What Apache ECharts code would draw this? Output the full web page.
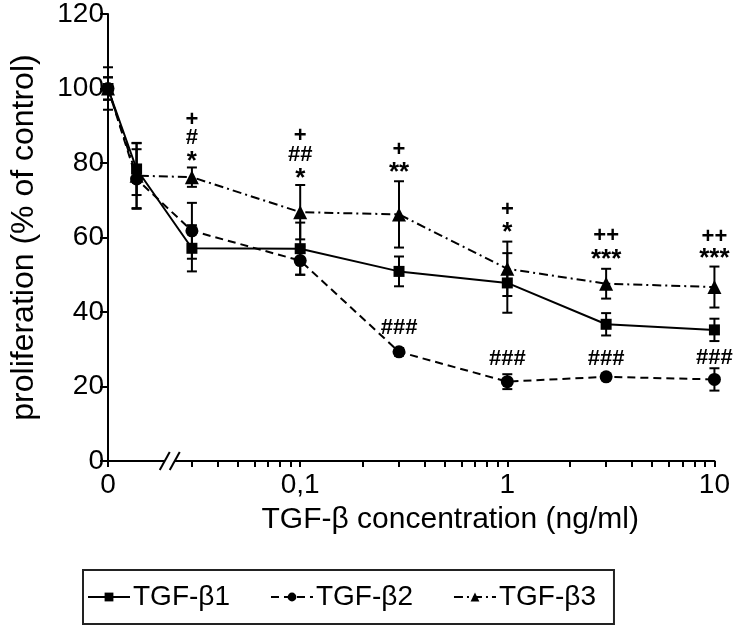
<!DOCTYPE html>
<html>
<head>
<meta charset="utf-8">
<script src="https://cdn.jsdelivr.net/npm/echarts@6/dist/echarts.min.js"></script>
<style>html,body{margin:0;padding:0;background:#fff}#c{width:733px;height:636px}</style>
</head>
<body>
<div id="c"></div>
<script>
// ---- data ----
const concentrations = [0, 0.01, 0.03, 0.1, 0.3, 1, 3, 10];
const tgfb1 = [100, 78.4, 57.1, 57.0, 50.9, 47.8, 36.7, 35.2];
const tgfb1Err = [3, 7, 6.2, 7, 4, 8, 3, 3];
const tgfb2 = [100, 75.7, 61.8, 53.8, 29.3, 21.3, 22.6, 21.9];
const tgfb2Err = [5.7, 8, 7.5, 3.8, 1, 2, 0.8, 3];
const tgfb3 = [100, 76.6, 76.2, 66.8, 66.2, 51.6, 47.6, 46.7];
const tgfb3Err = [3, 8.7, 2.6, 7.3, 8.9, 7.3, 4, 5.5];
const seriesNames = ['TGF-β1', 'TGF-β2', 'TGF-β3'];

const xTickLabels = ['0', '0,1', '1', '10'];
const xLabelConc = [0, 0.1, 1, 10];
const minorTickConc = [0.03,0.04,0.05,0.06,0.07,0.08,0.09,0.1,0.2,0.3,0.4,0.5,0.6,0.7,0.8,0.9,1,2,3,4,5,6,7,8,9,10];

const annotConc = [0.03,0.03,0.03, 0.1,0.1,0.1, 0.3,0.3, 1,1, 3,3, 10,10, 0.3,1,3,10];
const annotY    = [91.6,86.7,80.2, 87.2,82.1,75.8, 83.5,77.4, 67.3,61.2, 60.5,54.1, 60.2,54.2, 35.7,27.3,27.3,27.7];
const annotText = ['+','#','*', '+','##','*', '+','**', '+','*', '++','***', '++','***', '###','###','###','###'];

// ---- broken log scale: zero and the low dose sit left of the break ----
const ZERO_POS = -1.928, LOW_POS = -1.79, BREAK_POS = -1.63;
function xpos(c) { if (c === 0) return ZERO_POS; if (c < 0.02) return LOW_POS; return Math.log10(c); }

const FONT = 'Liberation Sans, Arial, sans-serif';
const chart = echarts.init(document.getElementById('c'), null, {renderer: 'canvas'});

function lineData(vals) { return vals.map((v, i) => [xpos(concentrations[i]), v]); }
function errData(vals, errs) { return vals.map((v, i) => [xpos(concentrations[i]), v - errs[i], v + errs[i]]); }

function renderErr(params, api) {
  const x = api.value(0), lo = api.value(1), hi = api.value(2);
  const a = api.coord([x, hi]), b = api.coord([x, lo]);
  const w = 5;
  const st = {stroke: '#000', lineWidth: 2};
  return {type: 'group', children: [
    {type: 'line', shape: {x1: a[0], y1: a[1], x2: b[0], y2: b[1]}, style: st},
    {type: 'line', shape: {x1: a[0]-w, y1: a[1], x2: a[0]+w, y2: a[1]}, style: st},
    {type: 'line', shape: {x1: b[0]-w, y1: b[1], x2: b[0]+w, y2: b[1]}, style: st}
  ]};
}
function renderAnnot(params, api) {
  const p = api.coord([api.value(0), api.value(1)]);
  const t = annotText[params.dataIndex];
  const star = t.indexOf('*') >= 0;
  return {type: 'text', x: p[0], y: p[1], style: {
    text: t, fill: '#000', font: 'bold ' + (star ? 26 : 22) + 'px ' + FONT,
    textAlign: 'center', textVerticalAlign: 'middle'
  }};
}

const styles = [
  {symbol: 'rect', size: 11, type: 'solid'},
  {symbol: 'circle', size: 13, type: [8, 5]},
  {symbol: 'triangle', size: 14, type: [9, 4, 2, 4]}
];
const vals = [tgfb1, tgfb2, tgfb3];
const errs = [tgfb1Err, tgfb2Err, tgfb3Err];

const series = [];
vals.forEach((v, k) => {
  series.push({
    type: 'custom', renderItem: renderErr, data: errData(v, errs[k]), z: 2, silent: true
  });
});
vals.forEach((v, k) => {
  series.push({
    name: seriesNames[k], type: 'line', data: lineData(v), z: 3,
    symbol: styles[k].symbol, symbolSize: styles[k].size,
    itemStyle: {color: '#000'},
    lineStyle: {color: '#000', width: 2, type: styles[k].type},
    animation: false
  });
});
series.push({
  type: 'custom', renderItem: renderAnnot, z: 4, silent: true,
  data: annotConc.map((c, i) => [xpos(c), annotY[i]])
});

const option = {
  animation: false,
  backgroundColor: '#fff',
  grid: {left: 108, right: 16, top: 9, bottom: 175},
  xAxis: {
    type: 'value', min: ZERO_POS, max: 1,
    name: 'TGF-β concentration (ng/ml)', nameLocation: 'middle', nameGap: 44,
    nameTextStyle: {fontFamily: FONT, fontSize: 30, color: '#000', padding: [0, 0, 0, 78]},
    axisLine: {onZero: false, lineStyle: {color: '#000', width: 2}},
    axisTick: {show: true, length: 6, lineStyle: {color: '#000', width: 2},
      customValues: [ZERO_POS].concat(minorTickConc.map(Math.log10))},
    axisLabel: {fontFamily: FONT, fontSize: 28, color: '#000', margin: 10,
      customValues: xLabelConc.map(xpos),
      formatter: v => { const i = xLabelConc.findIndex(c => Math.abs(xpos(c) - v) < 1e-6); return i >= 0 ? xTickLabels[i] : ''; }},
    splitLine: {show: false}
  },
  yAxis: {
    type: 'value', min: 0, max: 120, interval: 20,
    name: 'proliferation (% of control)', nameLocation: 'middle', nameGap: 68,
    nameTextStyle: {fontFamily: FONT, fontSize: 32, color: '#000'},
    axisLine: {show: true, onZero: false, lineStyle: {color: '#000', width: 2}},
    axisTick: {show: true, length: 8, lineStyle: {color: '#000', width: 2}},
    axisLabel: {fontFamily: FONT, fontSize: 28, color: '#000', margin: 4},
    splitLine: {show: false}
  },
  legend: {
    data: seriesNames, left: 83, top: 570,
    orient: 'horizontal', itemGap: 40, itemWidth: 42, itemHeight: 11,
    padding: [13, 18, 13, 4],
    borderColor: '#222', borderWidth: 2,
    textStyle: {fontFamily: FONT, fontSize: 28, color: '#000', padding: [0, 0, 0, -2]}
  },
  series: series
};
chart.setOption(option);

// break marks on the x axis
const bx = chart.convertToPixel({xAxisIndex: 0}, BREAK_POS);
const by = chart.convertToPixel({yAxisIndex: 0}, 0);
chart.setOption({graphic: [
  {type: 'rect', shape: {x: bx - 5, y: by - 3, width: 10, height: 6}, style: {fill: '#fff'}, z: 100},
  {type: 'line', shape: {x1: bx - 10, y1: by + 9, x2: bx, y2: by - 9}, style: {stroke: '#000', lineWidth: 2}, z: 101},
  {type: 'line', shape: {x1: bx, y1: by + 9, x2: bx + 10, y2: by - 9}, style: {stroke: '#000', lineWidth: 2}, z: 101}
]});
</script>
</body>
</html>
